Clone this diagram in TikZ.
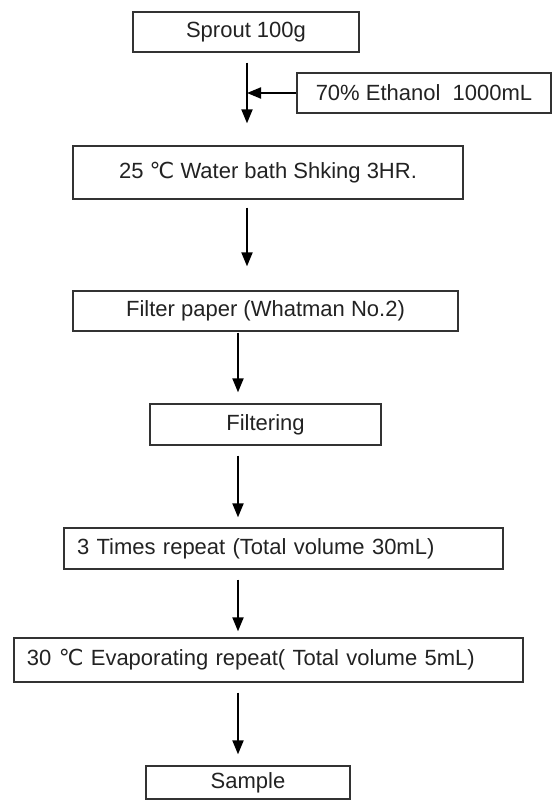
\documentclass[tikz,border=0pt]{standalone}
\usepackage{fontspec}
\setmainfont{Liberation Sans}
\newfontfamily\degfont{DejaVu Sans}
\usetikzlibrary{arrows.meta, positioning, calc}
\definecolor{boxline}{HTML}{333333}
\definecolor{textgrey}{HTML}{222222}
\tikzset{
  stepbox/.style={rectangle, draw=boxline, line width=1.3pt, inner sep=0pt,
                  font=\fontsize{22}{26}\selectfont, text=textgrey, align=center},
  leftbox/.style={stepbox, align=left, inner xsep=13pt},
  flow/.style={-{Triangle[length=14pt,width=11pt]}, line width=2pt, draw=black},
}

\begin{document}
\begin{tikzpicture}[x=1pt, y=-1pt]
  \useasboundingbox (0,0) rectangle (553,800);

  % --- Arrow columns ---
  \coordinate (colA) at (247,0);
  \coordinate (colB) at (238,0);

  % --- Steps ---
  \node[stepbox, minimum width=226pt, minimum height=40pt] (sprout) at (246,32) {Sprout 100g};
  \node[stepbox, minimum width=254pt, minimum height=40pt] (ethanol) at (424,93) {70\% Ethanol\ \ 1000mL};
  \node[stepbox, minimum width=390pt, minimum height=53pt] (bath) at (268,172.5)
    {25 {\degfont ℃} Water bath Shking 3HR.};
  \node[stepbox, minimum width=385pt, minimum height=40pt] (filter) at (265.5,311)
    {Filter paper (Whatman No.2)};
  \node[stepbox, minimum width=231pt, minimum height=41pt] (filtering) at (265.5,424.5) {Filtering};
  \node[leftbox, text width=413pt, minimum height=41pt] (repeat) at (283.5,548.5)
    {3 Times repeat (Total volume 30mL)};
  \node[leftbox, text width=483pt, minimum height=44pt] (evap) at (268.5,660)
    {30 {\degfont ℃} Evaporating repeat( Total volume 5mL)};
  \node[stepbox, minimum width=204pt, minimum height=33pt] (sample) at (248,782.5) {Sample};

  % --- Connectors ---
  \draw[flow, shorten <=10pt, shorten >=22pt] (sprout.south -| colA) -- (bath.north -| colA);
  \draw[flow] (ethanol.west) -- (ethanol.west -| colA);
  \draw[flow, shorten <=8pt, shorten >=24pt] (bath.south -| colA) -- (filter.north -| colA);
  \draw[flow, shorten <=1pt, shorten >=11pt] (filter.south -| colB) -- (filtering.north -| colB);
  \draw[flow, shorten <=10pt, shorten >=10pt] (filtering.south -| colB) -- (repeat.north -| colB);
  \draw[flow, shorten <=10pt, shorten >=6pt] (repeat.south -| colB) -- (evap.north -| colB);
  \draw[flow, shorten <=10pt, shorten >=11pt] (evap.south -| colB) -- (sample.north -| colB);

\end{tikzpicture}
\end{document}
